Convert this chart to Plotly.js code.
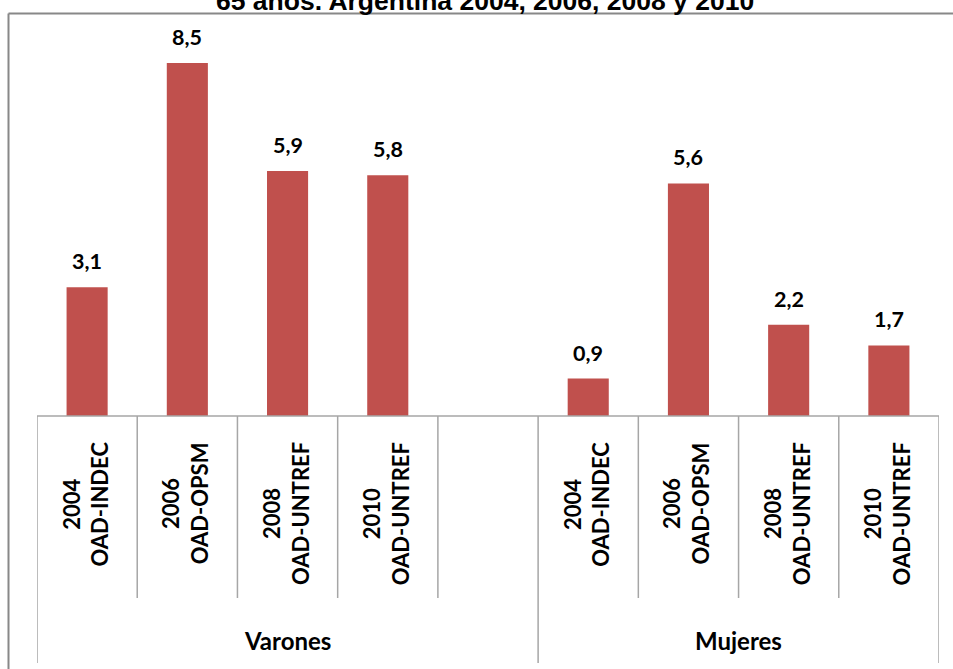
<!DOCTYPE html>
<html>
<head>
<meta charset="utf-8">
<script src="https://cdn.plot.ly/plotly-3.0.1.min.js"></script>
<style>html,body{margin:0;padding:0;background:#fff;overflow:hidden;}#chart{width:953px;height:669px;display:block;}</style>
</head>
<body>
<div id="chart"></div>
<script>
const titleText = "65 años. Argentina 2004, 2006, 2008 y 2010";
const groups = ["Varones", "Mujeres"];
const periods = ["2004<br>OAD-INDEC", "2006<br>OAD-OPSM", "2008<br>OAD-UNTREF", "2010<br>OAD-UNTREF"];
const varones = [3.1, 8.5, 5.9, 5.8];
const mujeres = [0.9, 5.6, 2.2, 1.7];
const valueLabels = v => v.toFixed(1).replace(".", ",");

// category keys (unique) – Varones group has an extra empty slot
const keysV = periods.map((p, i) => "V" + i);
const keysM = periods.map((p, i) => "M" + i);
const blankKey = "Vblank";
const catOrder = keysV.concat([blankKey], keysM);

const barColor = "#C0504D";
const lineColor = "#A6A6A6";
const borderColor = "#888888";
const labelFont = {family: "Lato", size: 22, color: "#000", weight: 700};

const trace = {
  type: "bar",
  x: keysV.concat(keysM),
  y: varones.concat(mujeres),
  marker: {color: barColor},
  width: 0.41,
  hoverinfo: "skip"
};

const annotations = [];
// value labels
trace.x.forEach((k, i) => {
  annotations.push({
    x: k, y: trace.y[i], xref: "x", yref: "y",
    text: valueLabels(trace.y[i]), showarrow: false,
    yanchor: "bottom", yshift: 11,
    font: {family: "Lato", size: 21.5, color: "#000", weight: 700}
  });
});
// rotated period labels
const allKeys = [keysV, keysM];
allKeys.forEach(ks => ks.forEach((k, i) => {
  annotations.push({
    x: k, y: 0, xref: "x", yref: "paper",
    text: periods[i], showarrow: false, textangle: -90,
    yanchor: "top", yshift: -24, xshift: -2, align: "center",
    font: labelFont
  });
}));
// group labels
const groupRanges = [[0, keysV.length], [keysV.length + 1, catOrder.length - 1]];
groups.forEach((g, gi) => {
  const [a, b] = groupRanges[gi];
  annotations.push({
    x: (a + b) / 2, y: 0, xref: "x", yref: "paper",
    text: g, showarrow: false, yanchor: "middle", yshift: -224,
    font: {family: "Lato", size: 24, color: "#000", weight: 700}
  });
});

// divider lines under the axis
const H = 402; // plot height in px
const shortY = -(598 - 416) / H;
const longY = -(663 - 416) / H;
const shapes = [];
const groupEdges = [-0.5, keysV.length + 0.5, catOrder.length - 0.5];
for (let i = 0; i < catOrder.length - 1; i++) {
  const xb = i + 0.5;
  if (groupEdges.indexOf(xb) >= 0) continue;
  shapes.push({type: "line", xref: "x", yref: "paper", x0: xb, x1: xb, y0: 0, y1: shortY,
    line: {color: lineColor, width: 1.5}});
}
groupEdges.forEach(xb => shapes.push({type: "line", xref: "x", yref: "paper", x0: xb, x1: xb, y0: 0, y1: longY,
  line: {color: lineColor, width: 1.5}}));
// baseline
shapes.push({type: "line", xref: "paper", yref: "paper", x0: 0, x1: 1, y0: 0, y1: 0,
  line: {color: lineColor, width: 1.5}});
// outer chart border (left and top edges visible; right/bottom run off the picture)
const topY = (416 - 13.5) / H;
const leftX = -(37 - 8.5) / 902;
shapes.push({type: "line", xref: "paper", yref: "paper", x0: leftX, x1: leftX, y0: topY, y1: -0.7,
  line: {color: borderColor, width: 2}});
shapes.push({type: "line", xref: "paper", yref: "paper", x0: leftX, x1: 1.03, y0: topY, y1: topY,
  line: {color: borderColor, width: 2}});

const layout = {
  width: 953, height: 669,
  margin: {l: 37, r: 14, t: 14, b: 253},
  paper_bgcolor: "#fff", plot_bgcolor: "#fff",
  showlegend: false,
  title: {
    text: "<b>" + titleText + "</b>",
    font: {family: "Liberation Sans, Arial", size: 26.5, color: "#000"},
    xref: "container", x: 0.509, xanchor: "center",
    yref: "container", y: 0.985, yanchor: "bottom"
  },
  xaxis: {
    type: "category", categoryorder: "array", categoryarray: catOrder,
    range: [-0.5, catOrder.length - 0.5],
    showticklabels: false, ticks: "", showgrid: false, zeroline: false, showline: false,
    fixedrange: true
  },
  yaxis: {
    range: [0, 9.68], visible: false, showgrid: false, zeroline: false, fixedrange: true
  },
  annotations: annotations,
  shapes: shapes
};

Plotly.newPlot("chart", [trace], layout, {displayModeBar: false, staticPlot: true});
</script>
</body>
</html>
